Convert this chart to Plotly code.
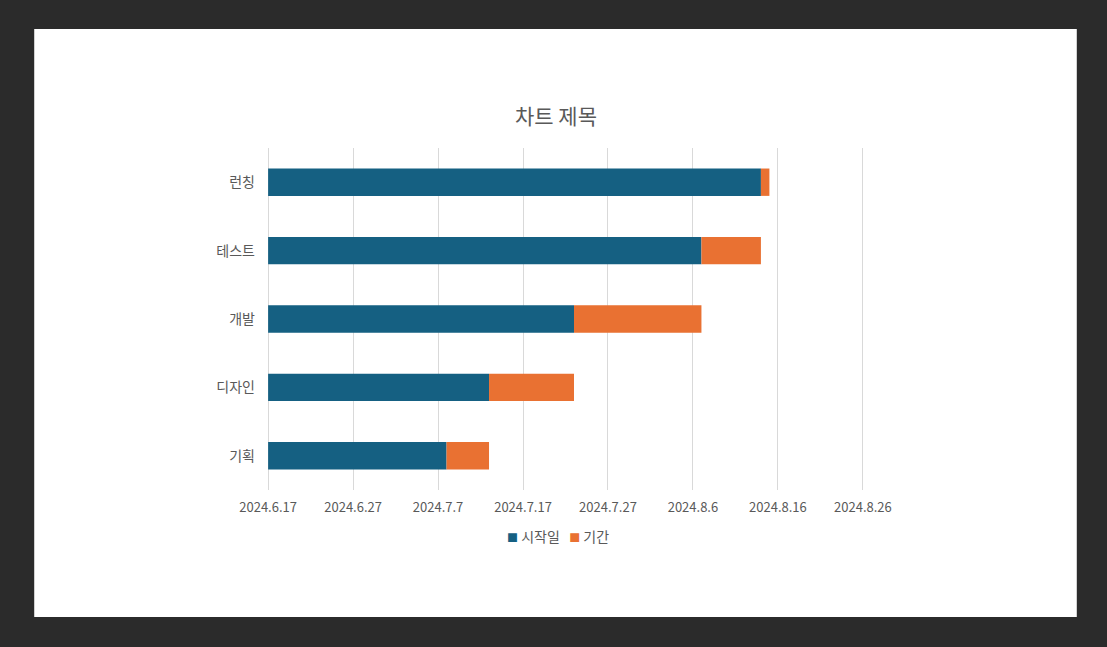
import plotly.graph_objects as go
import pandas as pd

tasks = ["기획", "디자인", "개발", "테스트", "런칭"]
start_dates = ["2024-07-08", "2024-07-13", "2024-07-23", "2024-08-07", "2024-08-14"]
durations = [5, 10, 15, 7, 1]
series_names = ["시작일", "기간"]
series_colors = ["#156082", "#E97132"]
axis_min = "2024-06-17"
axis_max = "2024-08-26"

DAY_MS = 86400000
base0 = pd.Timestamp(axis_min)
starts = [pd.Timestamp(s) for s in start_dates]
start_len_ms = [(s - base0).days * DAY_MS for s in starts]
dur_ms = [d * DAY_MS for d in durations]
pad = pd.Timedelta(hours=6)
x_range = [(base0 - pad).strftime("%Y-%m-%d %H:%M"),
           (pd.Timestamp(axis_max) + pad).strftime("%Y-%m-%d %H:%M")]

FONT = "Noto Sans CJK KR"
GRAY = "#595959"

fig = go.Figure()
fig.add_trace(go.Bar(
    name=series_names[0], y=tasks, x=start_len_ms, base=[axis_min] * len(tasks),
    orientation="h", marker=dict(color=series_colors[0], line=dict(width=0)),
    width=0.4, hoverinfo="skip", showlegend=False))
fig.add_trace(go.Bar(
    name=series_names[1], y=tasks, x=dur_ms, base=[s.strftime("%Y-%m-%d") for s in starts],
    orientation="h", marker=dict(color=series_colors[1], line=dict(width=0)),
    width=0.4, hoverinfo="skip", showlegend=False))

W, H = 1107, 647
pad_px = 8.5 * 0.25
L, R, T, B = 268 - pad_px, 863 + pad_px, 148, 490
pw, ph = R - L, B - T

fig.add_shape(type="rect", xref="paper", yref="paper", layer="below",
              x0=(34 - L) / pw, x1=(1077 - L) / pw,
              y0=(B - 617) / ph, y1=(B - 29) / ph,
              fillcolor="white", line=dict(width=0))

legend_text = (f"<span style='color:{series_colors[0]};font-size:11px'>■</span>&nbsp;{series_names[0]}"
               f"&nbsp;&nbsp;&nbsp;<span style='color:{series_colors[1]};font-size:11px'>■</span>&nbsp;{series_names[1]}")
fig.add_annotation(text=legend_text, xref="paper", yref="paper",
                   x=(558 - L) / pw, y=(B - 536) / ph, xanchor="center", yanchor="middle",
                   showarrow=False, font=dict(family=FONT, size=14, color=GRAY))

fig.update_layout(
    width=W, height=H,
    margin=dict(l=L, r=W - R, t=T, b=H - B),
    paper_bgcolor="#2b2b2b", plot_bgcolor="rgba(0,0,0,0)",
    barmode="overlay",
    showlegend=False,
    font=dict(family=FONT, color=GRAY, size=13),
    title=dict(text="차트 제목", x=556 / W, xanchor="center",
               y=1 - 117 / H, yanchor="middle",
               font=dict(family=FONT, size=21, color=GRAY)),
    xaxis=dict(type="date", range=x_range,
               tick0=axis_min, dtick=10 * DAY_MS, tickformat="%Y.%-m.%-d",
               showgrid=True, gridcolor="#d9d9d9", gridwidth=1,
               zeroline=False, showline=False, ticks="",
               tickfont=dict(family=FONT, size=13, color=GRAY), ticklabelstandoff=8),
    yaxis=dict(type="category", categoryorder="array", categoryarray=tasks,
               showgrid=False, zeroline=False, showline=False, ticks="",
               tickfont=dict(family=FONT, size=14, color=GRAY), ticklabelstandoff=10),
)

fig.write_html("out.html")
